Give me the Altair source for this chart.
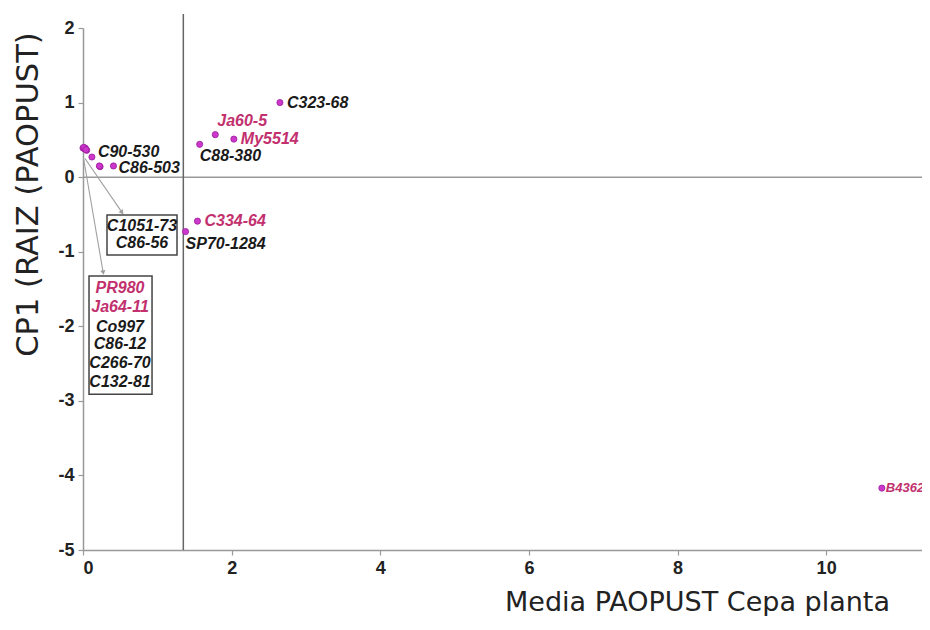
import altair as alt
import pandas as pd

# ---------------- data ----------------
cultivar = ["PR980", "Ja64-11", "Co997", "C86-12", "C266-70", "C132-81",
            "C90-530", "C1051-73", "C86-56", "C86-503", "C88-380", "Ja60-5",
            "My5514", "C323-68", "C334-64", "SP70-1284", "B4362"]
media_paopust = [0.00, 0.02, 0.03, 0.05, 0.01, 0.04,
                 0.12, 0.23, 0.22, 0.41, 1.57, 1.78,
                 2.03, 2.65, 1.54, 1.38, 10.75]
cp1_raiz = [0.39, 0.38, 0.39, 0.36, 0.40, 0.37,
            0.27, 0.14, 0.15, 0.15, 0.44, 0.57,
            0.51, 1.00, -0.59, -0.73, -4.17]
label_color = ["pink", "pink", "black", "black", "black", "black",
               "black", "black", "black", "black", "black", "pink",
               "pink", "black", "pink", "black", "pink"]
label_place = ["box", "box", "box", "box", "box", "box",
               "right_up", "box", "box", "right_low", "below", "above",
               "right", "right", "right", "below", "edge"]

# boxed label groups
box_text = ["C1051-73", "C86-56", "PR980", "Ja64-11", "Co997", "C86-12", "C266-70", "C132-81"]
box_text_x = [0.794, 0.794, 0.498, 0.498, 0.498, 0.498, 0.498, 0.498]
box_text_y = [-0.656, -0.884, -1.487, -1.742, -2.011, -2.239, -2.493, -2.748]
box_text_color = ["black", "black", "pink", "pink", "black", "black", "black", "black"]

box_x1 = [0.323, 0.081]
box_x2 = [1.265, 0.929]
box_y1 = [-0.508, -1.326]
box_y2 = [-1.045, -2.910]

# arrows from the cluster to the boxes
arrow_x1 = [0.027, 0.004]
arrow_y1 = [0.25, 0.27]
arrow_x2 = [0.52, 0.27]
arrow_y2 = [-0.466, -1.27]
arrow_angle = [145, 170]

# reference lines
x_ref = [1.35]
y_ref = [0]

x_ticks = [0, 2, 4, 6, 8, 10]
y_ticks = [-5, -4, -3, -2, -1, 0, 1, 2]

# ---------------- tables ----------------
pts = pd.DataFrame({"cultivar": cultivar, "x": media_paopust, "y": cp1_raiz,
                    "col": label_color, "place": label_place})
boxlab = pd.DataFrame({"t": box_text, "x": box_text_x, "y": box_text_y, "col": box_text_color})
boxes = pd.DataFrame({"x": box_x1, "x2": box_x2, "y": box_y1, "y2": box_y2})
arrows = pd.DataFrame({"x": arrow_x1, "y": arrow_y1, "x2": arrow_x2, "y2": arrow_y2, "ang": arrow_angle})

W, H = 839, 522
PINK = "#c2306e"
BLACK = "#1a1a1a"
color_scale = alt.Scale(domain=["pink", "black"], range=[PINK, BLACK])

xscale = alt.Scale(domain=[0, 11.29], nice=False, zero=False)
yscale = alt.Scale(domain=[-5, 2], nice=False, zero=False)

axis_common = dict(grid=False, domainColor="#999999", domainWidth=1.5,
                   tickColor="#999999", tickWidth=1.2, tickSize=5,
                   labelFont="Liberation Sans", labelFontSize=18, labelFontWeight="bold",
                   labelColor="#222222", labelPadding=4,
                   labelExpr="toString(datum.value)",
                   titleFont="DejaVu Sans", titleFontWeight="normal", titleColor="#222222")

xaxis = alt.Axis(values=x_ticks, title="Media PAOPUST Cepa planta",
                 titleFontSize=27, titleX=614, titleY=60, titleAlign="center",
                 titleBaseline="alphabetic", **axis_common)
yaxis = alt.Axis(values=y_ticks, title="CP1 (RAIZ (PAOPUST)",
                 titleFontSize=30.5, titleAngle=270, titleX=-55, titleY=166,
                 titleAlign="center", titleBaseline="middle", **axis_common)

X = alt.X("x:Q", scale=xscale, axis=xaxis)
Y = alt.Y("y:Q", scale=yscale, axis=yaxis)

# horizontal zero line
hline = alt.Chart(pd.DataFrame({"y": y_ref})).mark_rule(color="#999999", strokeWidth=1.5).encode(
    y=alt.Y("y:Q", scale=yscale, axis=yaxis))
# vertical reference line (extends a little above the plot)
vline = alt.Chart(pd.DataFrame({"x": x_ref})).mark_rule(color="#666666", strokeWidth=1.5).encode(
    x=alt.X("x:Q", scale=xscale, axis=xaxis), y=alt.value(-14), y2=alt.value(H))

arrow_lines = alt.Chart(arrows).mark_rule(color="#a0a0a0", strokeWidth=1.1).encode(
    x=X, y=Y, x2="x2:Q", y2="y2:Q")
arrow_heads = alt.Chart(arrows).mark_point(shape="triangle", filled=True, color="#a0a0a0",
                                           size=28, opacity=1).encode(
    x=alt.X("x2:Q", scale=xscale, axis=xaxis), y=alt.Y("y2:Q", scale=yscale, axis=yaxis),
    angle=alt.Angle("ang:Q", scale=None))

box_rects = alt.Chart(boxes).mark_rect(fillOpacity=0, stroke="#444444", strokeWidth=1.5).encode(
    x=X, x2="x2:Q", y=Y, y2="y2:Q")

points = alt.Chart(pts).mark_circle(size=38, color="#cc38cc", opacity=1,
                                     stroke="#9a1a9a", strokeWidth=0.8).encode(x=X, y=Y)

label_style = dict(font="Liberation Sans", fontSize=16, fontStyle="italic", fontWeight="bold")


def labels(place, dx, dy, size=16):
    style = dict(label_style, fontSize=size)
    return alt.Chart(pts).transform_filter(alt.datum.place == place).mark_text(
        align="left", baseline="middle", dx=dx, dy=dy, **style).encode(
        x=X, y=Y, text="cultivar:N",
        color=alt.Color("col:N", scale=color_scale, legend=None))


lab_right = labels("right", 7, 0)
lab_right_low = labels("right_low", 5, 2)
lab_right_up = labels("right_up", 6, -5)
lab_below = labels("below", 0, 12)
lab_above = labels("above", 2, -14)
lab_edge = labels("edge", 4, 0, size=13)

box_labels = alt.Chart(boxlab).mark_text(align="center", baseline="middle", **label_style).encode(
    x=X, y=Y, text="t:N", color=alt.Color("col:N", scale=color_scale, legend=None))

chart = alt.layer(
    hline, vline, arrow_lines, arrow_heads, box_rects, points,
    lab_right, lab_right_low, lab_right_up, lab_below, lab_above, lab_edge, box_labels
).properties(
    width=W, height=H,
    autosize=alt.AutoSizeParams(type="none"),
    padding={"left": 75, "top": 20, "right": 0, "bottom": 66},
    background="white",
).configure_view(strokeWidth=0)

chart.save("out.html", embed_options={"renderer": "svg", "actions": False})
